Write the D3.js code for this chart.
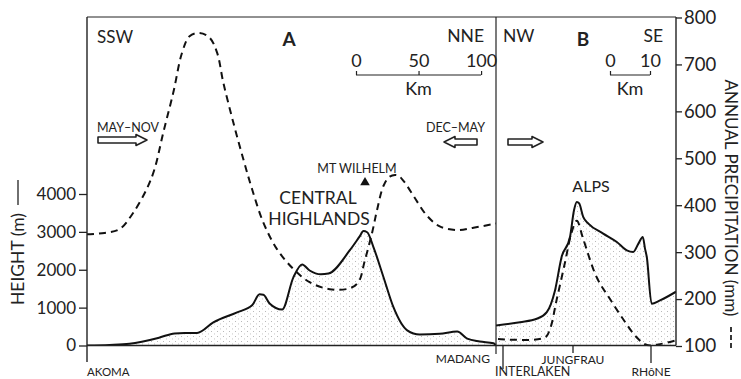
<!DOCTYPE html>
<html><head><meta charset="utf-8">
<script src="https://cdn.jsdelivr.net/npm/d3@7"></script>
<style>
html,body{margin:0;padding:0;background:#fff;}
svg text{font-family:Lato,"Open Sans",sans-serif;fill:#222;}
</style></head>
<body>
<svg id="c" width="741" height="379"></svg>
<script>
// ---- Panel A (Papua New Guinea, SSW -> NNE), distance in km ----
const heightA_km = [0,18,34,58,70,78,88,101,120,132,138,141,146,156,165,172,178,187,193,210,218,221,224,229,237,245,256,266,282,296,304,314,325,327];
const heightA_m  = [0,15,45,210,320,330,330,610,875,1060,1350,1340,1110,950,1800,2140,1980,1880,1900,2510,2880,3020,2990,2600,1810,1010,400,290,310,370,180,105,60,0];
const precipA_km = [0,14,26,37,48,54,61,69,76,82,90,98,104,109,117,125,132,141,152,165,178,194,210,217,222,228,232,237,242,248,253,261,272,282,296,309,325,327];
const precipA_mm = [338,341,349,384,436,477,555,640,725,760,767,757,725,661,576,498,434,363,306,264,236,221,223,236,281,342,391,441,461,464,452,420,377,355,347,352,360,361];
// ---- Panel B (Alps, NW -> SE) ----
const heightB_km = [0,6,10.2,12.7,14.75,16.4,18.5,19.5,20.2,20.8,21.8,23.1,26.8,30.2,32.7,34.3,35.6,36.7,37.25,37.7,38.9,41,45];
const heightB_m  = [530,616,706,881,1455,2336,2865,3571,3790,3750,3395,3220,2955,2733,2513,2470,2690,2865,2558,2336,1103,1190,1420];
const precipB_km = [0.5,12.25,13.5,15.2,17.25,18.9,20.2,21.8,25.2,28.5,31.8,35.2,37.7,41,45];
const precipB_mm = [115,118,136,200,278,342,367,328,246,200,157,118,102,104,112];
// ---- axes & labels ----
const heightTicks = [0,1000,2000,3000,4000];
const precipTicks = [100,200,300,400,500,600,700,800];
const placesA = ["AKOMA","MADANG"];
const placesA_km = [0,327];
const placesB = ["INTERLAKEN","JUNGFRAU","RHôNE"];
const placesB_km = [1.75,19.25,38.75];
const scaleA_ticks = [0,50,100];
const scaleB_ticks = [0,10];

const svg = d3.select("#c");
const X0 = 87, XD = 496, X1 = 676, TOP = 17, BASE = 345.5;
const xA = d3.scaleLinear().domain([0,327]).range([X0,XD]);
const xB = d3.scaleLinear().domain([0,45]).range([XD,X1]);
const yH = d3.scaleLinear().domain([0,4000]).range([BASE,194]);
const yP = d3.scaleLinear().domain([100,800]).range([346,17.5]);

// stipple pattern (sparse dots)
const defs = svg.append("defs");
const pat = defs.append("pattern").attr("id","stip").attr("width",6).attr("height",5).attr("patternUnits","userSpaceOnUse");
pat.append("rect").attr("x",1).attr("y",1).attr("width",0.9).attr("height",0.9).attr("fill","#a8a8a8");
pat.append("rect").attr("x",4).attr("y",3.5).attr("width",0.9).attr("height",0.9).attr("fill","#b8b8b8");
defs.append("clipPath").attr("id","clipA").append("rect").attr("x",X0).attr("y",TOP).attr("width",XD-X0).attr("height",BASE-TOP);
defs.append("clipPath").attr("id","clipB").append("rect").attr("x",XD).attr("y",TOP).attr("width",X1-XD).attr("height",BASE-TOP+1);

function drawPanel(x, hk, hm, pk, pm, clip){
  const g = svg.append("g").attr("clip-path",`url(#${clip})`);
  const hd = hk.map((k,i)=>[k,hm[i]]);
  const pd = pk.map((k,i)=>[k,pm[i]]);
  g.append("path").datum(hd)
    .attr("d", d3.area().x(d=>x(d[0])).y0(yH(0)).y1(d=>yH(d[1])).curve(d3.curveMonotoneX))
    .attr("fill","url(#stip)");
  g.append("path").datum(hd)
    .attr("d", d3.line().x(d=>x(d[0])).y(d=>yH(d[1])).curve(d3.curveMonotoneX))
    .attr("fill","none").attr("stroke","#111").attr("stroke-width",2).attr("stroke-linejoin","round");
  g.append("path").datum(pd)
    .attr("d", d3.line().x(d=>x(d[0])).y(d=>yP(d[1])).curve(d3.curveCatmullRom.alpha(0.5)))
    .attr("fill","none").attr("stroke","#111").attr("stroke-width",2).attr("stroke-dasharray","7,5");
}
drawPanel(xA, heightA_km, heightA_m, precipA_km, precipA_mm, "clipA");
drawPanel(xB, heightB_km, heightB_m, precipB_km, precipB_mm, "clipB");

// frame
const fr = svg.append("g").attr("stroke","#222").attr("fill","none");
fr.append("line").attr("x1",X0).attr("x2",X1).attr("y1",TOP).attr("y2",TOP).attr("stroke-width",1);
fr.append("line").attr("x1",X0).attr("x2",X0).attr("y1",TOP).attr("y2",362).attr("stroke-width",1.4);
fr.append("line").attr("x1",XD).attr("x2",XD).attr("y1",TOP).attr("y2",354).attr("stroke-width",1.2);
fr.append("line").attr("x1",X1).attr("x2",X1).attr("y1",TOP).attr("y2",BASE).attr("stroke-width",1.4);
fr.append("line").attr("x1",X0).attr("x2",X1).attr("y1",BASE).attr("y2",BASE).attr("stroke-width",1.4);

// left axis
const la = svg.append("g").attr("transform",`translate(${X0},0)`)
  .call(d3.axisLeft(yH).tickValues(heightTicks).tickSize(8).tickPadding(3).tickFormat(d3.format("d")));
la.select(".domain").remove();
la.selectAll("text").attr("font-size",17).attr("font-family","Lato").attr("fill","#222");
la.selectAll("line").attr("stroke","#222").attr("stroke-width",1.3);

// right axis
const ra = svg.append("g").attr("transform",`translate(${X1},0)`)
  .call(d3.axisRight(yP).tickValues(precipTicks).tickSize(6).tickPadding(2).tickFormat(d3.format("d")));
ra.select(".domain").remove();
ra.selectAll("text").attr("font-size",18.5).attr("font-family","Lato").attr("fill","#222");
ra.selectAll("line").attr("stroke","#222").attr("stroke-width",1.3);

// axis titles
svg.append("text").attr("transform","translate(24,259) rotate(-90)").attr("text-anchor","middle")
  .attr("font-size",17.5).text("HEIGHT (m)");
svg.append("line").attr("x1",18).attr("x2",18).attr("y1",205).attr("y2",180).attr("stroke","#222").attr("stroke-width",1.3);
svg.append("text").attr("transform","translate(724.5,198) rotate(90)").attr("text-anchor","middle")
  .attr("font-size",17).text("ANNUAL PRECIPITATION (mm)");
svg.append("line").attr("x1",731).attr("x2",731).attr("y1",327).attr("y2",351).attr("stroke","#222").attr("stroke-width",1.8).attr("stroke-dasharray","5,3");

// panel headings
function txt(x,y,s,size,anchor,weight){
  return svg.append("text").attr("x",x).attr("y",y).attr("font-size",size).attr("text-anchor",anchor||"start")
    .attr("font-weight",weight||"normal").text(s);
}
txt(97,43,"SSW",17);
txt(289,46,"A",19,"middle","bold");
txt(484,42,"NNE",17.5,"end");
txt(503,42,"NW",17.5);
txt(583,46,"B",19,"middle","bold");
txt(663,42,"SE",17.5,"end");

// scale bars
function scaleBar(x0, pxPerKm, ticks){
  const s = d3.scaleLinear().domain([0, ticks[ticks.length-1]]).range([x0, x0 + pxPerKm*ticks[ticks.length-1]]);
  const g = svg.append("g").attr("transform","translate(0,75)")
    .call(d3.axisTop(s).tickValues(ticks).tickSize(4).tickPadding(4).tickFormat(d3.format("d")));
  g.select(".domain").attr("d",`M${s.range()[0]},0H${s.range()[1]}`).attr("stroke","#222").attr("stroke-width",1.2);
  g.selectAll("line").attr("stroke","#222").attr("stroke-width",1.2);
  g.selectAll("text").attr("font-size",18).attr("font-family","Lato").attr("fill","#222");
  txt((s.range()[0]+s.range()[1])/2, 95, "Km", 18, "middle");
}
scaleBar(356, xA(1)-xA(0), scaleA_ticks);
scaleBar(610, xB(1)-xB(0), scaleB_ticks);

// wind arrows
function arrow(x0,x1,y){
  const dir = x1 > x0 ? 1 : -1, head = 11*dir;
  const p = d3.path();
  p.moveTo(x0,y-3); p.lineTo(x1-head,y-3); p.lineTo(x1-head,y-5.5); p.lineTo(x1,y);
  p.lineTo(x1-head,y+5.5); p.lineTo(x1-head,y+3); p.lineTo(x0,y+3); p.closePath();
  svg.append("path").attr("d",p.toString()).attr("fill","#fff").attr("stroke","#222").attr("stroke-width",1.6).attr("stroke-linejoin","round");
}
txt(97,132,"MAY–NOV",12.5);
arrow(98,147,140);
txt(485,132,"DEC–MAY",12.5,"end");
arrow(477,444,142);
arrow(508,543,142);

// feature labels
txt(357,173,"MT WILHELM",12.5,"middle");
svg.append("path").attr("d",d3.symbol(d3.symbolTriangle,40)()).attr("transform","translate(365,182.5)").attr("fill","#111");
txt(318,204,"CENTRAL",17.5,"middle");
txt(319,225,"HIGHLANDS",17.5,"middle");
txt(591,192,"ALPS",16,"middle");

// place ticks & labels
const tk = svg.append("g").attr("stroke","#222").attr("stroke-width",1.3);
tk.append("line").attr("x1",xB(placesB_km[0])).attr("x2",xB(placesB_km[0])).attr("y1",BASE).attr("y2",369);
tk.append("line").attr("x1",xB(placesB_km[1])).attr("x2",xB(placesB_km[1])).attr("y1",BASE).attr("y2",353);
tk.append("line").attr("x1",xB(placesB_km[2])).attr("x2",xB(placesB_km[2])).attr("y1",BASE).attr("y2",363);
txt(xA(placesA_km[0]),376,placesA[0],11.5,"start");
txt(xA(placesA_km[1])-6,363,placesA[1],12,"end");
txt(xB(placesB_km[0])-8,376,placesB[0],12.5,"start");
txt(xB(placesB_km[1]),364,placesB[1],12,"middle");
txt(xB(placesB_km[2]),376,placesB[2],12,"middle");
</script>
</body></html>
